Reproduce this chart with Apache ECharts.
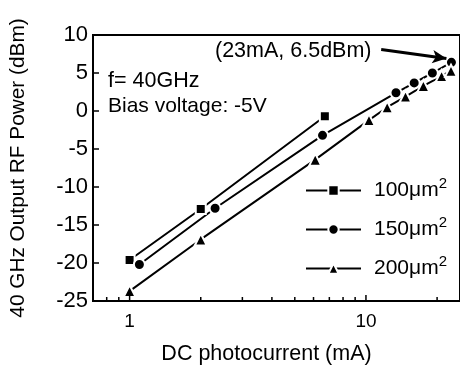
<!DOCTYPE html>
<html><head><meta charset="utf-8">
<script src="https://cdn.jsdelivr.net/npm/echarts@6/dist/echarts.min.js"></script>
<style>html,body{margin:0;padding:0;background:#fff}#c{width:460px;height:370px}</style>
</head><body><div id="c"></div>
<script>
var xTickLabels = [1, 10];
var xMinorTicks = [0.7, 0.8, 0.9, 2, 3, 4, 5, 6, 7, 8, 9, 20];
var s100x = [1.0, 2.0, 6.7];
var s100y = [-19.6, -12.9, -0.7];
var s150x = [1.1, 2.3, 6.55, 13.4, 16.0, 19.1, 23.0];
var s150y = [-20.2, -12.8, -3.2, 2.4, 3.7, 5.0, 6.4];
var s200x = [1.0, 2.0, 6.1, 10.3, 12.3, 14.7, 17.5, 20.9, 22.9];
var s200y = [-23.7, -16.9, -6.4, -1.2, 0.5, 1.9, 3.3, 4.6, 5.3];
var seriesNames = ['100', '150', '200'];
var arrowFrom = [11.6, 8.1];
var arrowTo = [21.9, 6.9];
var yMin = -25, yMax = 10;

function zip(a, b) { return a.map(function (v, i) { return [v, b[i]]; }); }
var FONT = 'Liberation Sans';
var chart = echarts.init(document.getElementById('c'));
var mk = function (name, xs, ys, sym, size) {
  return {
    name: name, type: 'line', data: zip(xs, ys), symbol: sym, symbolSize: size,
    lineStyle: { color: '#000', width: 2 },
    itemStyle: { color: '#000', borderColor: '#fff', borderWidth: 2 },
    z: 3
  };
};
var s1 = mk(seriesNames[0], s100x, s100y, 'rect', 10);
var s2 = mk(seriesNames[1], s150x, s150y, 'circle', 11);
var s3 = mk(seriesNames[2], s200x, s200y, 'triangle', 12);
s2.markLine = {
  silent: true, symbol: ['none', 'arrow'], symbolSize: [10, 14],
  lineStyle: { color: '#000', width: 3, type: 'solid' }, label: { show: false },
  data: [[{ coord: arrowFrom }, { coord: arrowTo }]]
};
var tickData = xTickLabels.map(function (v) { return [v, 6]; }).concat(xMinorTicks.map(function (v) { return [v, 4]; }));
var ticks = {
  type: 'custom', silent: true, z: 5,
  data: tickData,
  renderItem: function (params, api) {
    var p = api.coord([api.value(0), yMin]);
    var len = api.value(1);
    return { type: 'line', shape: { x1: p[0], y1: p[1], x2: p[0], y2: p[1] - len }, style: { stroke: '#000', lineWidth: 1.5 } };
  }
};
chart.setOption({
  animation: false,
  grid: { left: 93, right: -2, top: 35, bottom: 65, show: true, borderColor: '#000', borderWidth: 2 },
  xAxis: {
    type: 'log', logBase: 10, min: 0.7, max: 25,
    name: 'DC photocurrent (mA)', nameLocation: 'middle', nameGap: 42,
    nameTextStyle: { fontFamily: FONT, fontSize: 21.5, color: '#000', padding: [0, 20, 0, 0] },
    axisLine: { onZero: false, lineStyle: { color: '#000', width: 2 } },
    axisTick: { show: false },
    axisLabel: { fontFamily: FONT, fontSize: 19, color: '#000', margin: 11, customValues: xTickLabels },
    splitLine: { show: false }
  },
  yAxis: {
    type: 'value', min: yMin, max: yMax, interval: 5,
    name: '40 GHz Output RF Power (dBm)', nameLocation: 'middle', nameGap: 64,
    nameTextStyle: { fontFamily: FONT, fontSize: 20.8, color: '#000' },
    axisLine: { show: true, onZero: false, lineStyle: { color: '#000', width: 2 } },
    axisTick: { inside: true, length: 6, lineStyle: { color: '#000', width: 1.5 } },
    axisLabel: { fontFamily: FONT, fontSize: 22, color: '#000', margin: 5 },
    splitLine: { show: false }
  },
  legend: {
    orient: 'vertical', left: 300, top: 171, itemGap: 14, itemWidth: 55, itemHeight: 13,
    data: seriesNames,
    itemStyle: { borderColor: '#fff', borderWidth: 2 },
    formatter: function (n) { return '{b|' + n + 'μm}{s|2}'; },
    textStyle: {
      fontFamily: FONT, color: '#000', padding: [0, 0, 0, 8],
      rich: { b: { fontFamily: FONT, fontSize: 21, color: '#000' }, s: { fontFamily: FONT, fontSize: 15, color: '#000', verticalAlign: 'top', padding: [0, 0, 14, 0] } }
    }
  },
  graphic: [
    { type: 'text', x: 108, y: 81, style: { text: 'f= 40GHz', font: '21.5px "Liberation Sans"', fill: '#000', verticalAlign: 'middle' } },
    { type: 'text', x: 108, y: 106, style: { text: 'Bias voltage: -5V', font: '21px "Liberation Sans"', fill: '#000', verticalAlign: 'middle' } },
    { type: 'text', x: 215, y: 51, style: { text: '(23mA, 6.5dBm)', font: '21.5px "Liberation Sans"', fill: '#000', verticalAlign: 'middle' } }
  ],
  series: [s1, s2, s3, ticks]
});
</script></body></html>
